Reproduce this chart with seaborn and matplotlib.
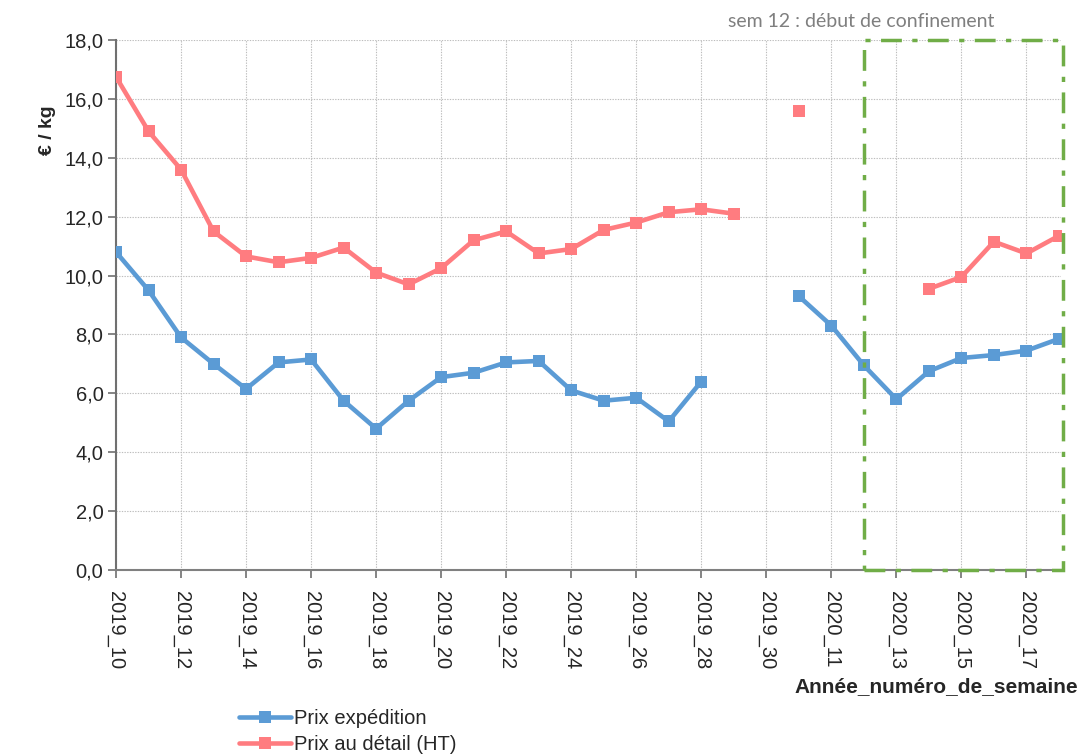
import numpy as np
import pandas as pd
import matplotlib
matplotlib.use("Agg")
import matplotlib.pyplot as plt
from matplotlib.lines import Line2D
from matplotlib.patches import Rectangle
import seaborn as sns

# Weekly prices (€/kg); None marks weeks without a quotation
weeks = [f"2019_{w}" for w in range(10, 31)] + [f"2020_{w}" for w in range(10, 19)]
prix_expedition = [10.8, 9.5, 7.9, 7.0, 6.15, 7.05, 7.15, 5.75, 4.8, 5.75,
                   6.55, 6.7, 7.05, 7.1, 6.1, 5.75, 5.85, 5.05, 6.4, None,
                   None, 9.3, 8.3, 6.95, 5.8, 6.75, 7.2, 7.3, 7.45, 7.85]
prix_detail = [16.75, 14.9, 13.6, 11.5, 10.65, 10.45, 10.6, 10.95, 10.1, 9.7,
               10.25, 11.2, 11.5, 10.75, 10.9, 11.55, 11.8, 12.15, 12.25, 12.1,
               None, 15.6, None, None, None, 9.55, 9.95, 11.15, 10.75, 11.35]
series_names = ["Prix expédition", "Prix au détail (HT)"]
series_colors = ["#5B9BD5", "#FF7C80"]
confinement_weeks = ("2020_12", "2020_18")
y_ticks = np.arange(0, 18.1, 2.0)

sns.set_theme(style="white")
plt.rcParams["font.family"] = ["Liberation Sans", "DejaVu Sans"]


def to_long(values, name):
    rows = []
    seg = 0
    prev_nan = True
    for i, v in enumerate(values):
        if v is None:
            prev_nan = True
            continue
        if prev_nan:
            seg += 1
            prev_nan = False
        rows.append({"pos": i, "week": weeks[i], "prix": v,
                     "serie": name, "segment": f"{name}-{seg}"})
    return rows


df = pd.DataFrame(to_long(prix_expedition, series_names[0]) +
                  to_long(prix_detail, series_names[1]))

fig = plt.figure(figsize=(10.8, 7.54), dpi=100)
ax = fig.add_axes([0.1074, 0.244, 0.8746, 0.703])

for name, color in zip(series_names, series_colors):
    sub = df[df["serie"] == name]
    sns.lineplot(data=sub, x="pos", y="prix", units="segment", estimator=None,
                 color=color, linewidth=3.3, marker="s", markersize=8,
                 markeredgewidth=0, ax=ax, legend=False, zorder=3)

ax.set_xlim(0, 29.05)
ax.set_ylim(0, 18)
ax.set_yticks(y_ticks)
ax.set_yticklabels([f"{t:.1f}".replace(".", ",") for t in y_ticks], fontsize=14.5)
tick_pos = list(range(0, len(weeks), 2))
ax.set_xticks(tick_pos)
ax.set_xticklabels([weeks[i] for i in tick_pos], rotation=-90, fontsize=14.5,
                   va="top", ha="center")

ax.grid(True, color="#bdbdbd", linestyle=(0, (1.2, 1.2)), linewidth=0.8)
ax.set_axisbelow(True)
for side in ("top", "right"):
    ax.spines[side].set_visible(False)
ax.spines["left"].set_color("#707070")
ax.spines["left"].set_linewidth(1.5)
ax.spines["bottom"].set_color("#808080")
ax.spines["bottom"].set_linewidth(1.5)
ax.tick_params(axis="both", which="major", direction="out", length=6,
               width=1.2, color="#707070", bottom=True, left=True)
ax.tick_params(axis="x", pad=9)
ax.tick_params(axis="y", pad=3)

ax.set_xlabel("")
ax.set_ylabel("€ / kg", fontsize=14, fontweight="bold")
ax.yaxis.set_label_coords(-0.063, 0.83)
fig.text(0.998, 0.09, "Année_numéro_de_semaine", fontsize=15,
         fontweight="bold", ha="right", va="center")

# Lockdown period box
x0 = weeks.index(confinement_weeks[0])
x1 = weeks.index(confinement_weeks[1]) + 0.13
ax.add_patch(Rectangle((x0, 0), x1 - x0, 18, fill=False, edgecolor="#70AD47",
                       linewidth=2.5, linestyle=(0, (6, 3, 1.5, 3)),
                       clip_on=False, zorder=4))
fig.text(0.921, 0.972, "sem 12 : début de confinement", fontsize=14,
         color="#7F7F7F", ha="right", va="center", family=["Lato", "DejaVu Sans"])

handles = [Line2D([], [], color=c, linewidth=3.3, marker="s", markersize=8,
                  markeredgewidth=0) for c in series_colors]
fig.legend(handles, series_names, loc="lower left",
           bbox_to_anchor=(0.208, -0.019), frameon=False, fontsize=14.5,
           handlelength=2.6, handletextpad=0.15, labelspacing=0.35,
           borderpad=0.2)

fig.savefig("out.png", dpi=100)
